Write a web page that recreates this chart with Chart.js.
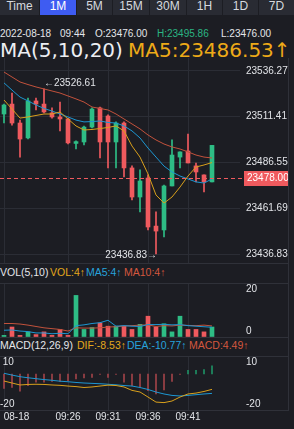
<!DOCTYPE html>
<html>
<head>
<meta charset="utf-8">
<script src="https://cdn.jsdelivr.net/npm/chart.js"></script>
<style>
  body { margin: 0; background: #1c1d23; width: 294px; height: 429px; overflow: hidden; position: relative;
         font-family: "Liberation Sans", Arial, sans-serif; }
  .abs { position: absolute; white-space: nowrap; line-height: 12px; }
  #bar { position: absolute; left: 0; top: 0; width: 294px; height: 15px; background: #1c1d23; }
  .tab { position: absolute; top: 0; height: 15px; background: #292b33; color: #d6d9df; font-size: 12px;
         text-align: center; line-height: 12px; }
  .tab.on { background: #3e5cf2; color: #fff; }
  .info { font-size: 10px; top: 27.5px; color: #e4e6ea; }
  .title { position: absolute; top: 38px; white-space: nowrap; font-family: "DejaVu Sans", sans-serif;
           font-size: 20px; line-height: 24px; }
  .leg { font-size: 10.5px; color: #e4e6ea; }
  .hl { position: absolute; left: 0; width: 289px; height: 1px; background: #2f3139; }
  .vl { position: absolute; left: 288px; top: 58px; width: 1px; height: 352px; background: #2f3139; }
  canvas { position: absolute; left: 0; }
</style>
</head>
<body>
<div id="bar">
  <div class="tab" style="left:0;width:39px">Time</div>
  <div class="tab on" style="left:40px;width:36px">1M</div>
  <div class="tab" style="left:77px;width:35px">5M</div>
  <div class="tab" style="left:113px;width:36px">15M</div>
  <div class="tab" style="left:150px;width:36px">30M</div>
  <div class="tab" style="left:187px;width:35px">1H</div>
  <div class="tab" style="left:223px;width:35px">1D</div>
  <div class="tab" style="left:259px;width:35px">7D</div>
</div>

<div class="abs info" style="left:0">2022-08-18</div>
<div class="abs info" style="left:60px">09:44</div>
<div class="abs info" style="left:95px">O:23476.00</div>
<div class="abs info" style="left:157px;color:#2bb583">H:23495.86</div>
<div class="abs info" style="left:221px">L:23476.00</div>

<div class="title" style="left:0;color:#eceef2">MA(5,10,20)</div>
<div class="title" style="left:128px;color:#eeaa18">MA5:23486.53↑</div>

<div class="abs leg" style="left:0;top:265.5px">VOL(5,10)</div>
<div class="abs leg" style="left:50px;top:265.5px;color:#e4a81c">VOL:4↑</div>
<div class="abs leg" style="left:86px;top:265.5px;color:#27a3dc">MA5:4↑</div>
<div class="abs leg" style="left:124px;top:265.5px;color:#d4573e">MA10:4↑</div>

<div class="abs leg" style="left:0;top:339px">MACD(12,26,9)</div>
<div class="abs leg" style="left:77px;top:339px;color:#e4a81c">DIF:-8.53↑</div>
<div class="abs leg" style="left:127px;top:339px;color:#27a3dc">DEA:-10.77↑</div>
<div class="abs leg" style="left:189px;top:339px;color:#d4573e">MACD:4.49↑</div>

<canvas id="main" width="289" height="205" style="top:58px"></canvas>
<canvas id="vol" width="289" height="55" style="top:283px"></canvas>
<canvas id="macd" width="289" height="73" style="top:356px"></canvas>

<div class="hl" style="top:263px"></div>
<div class="hl" style="top:283px"></div>
<div class="hl" style="top:337px"></div>
<div class="hl" style="top:356px"></div>
<div class="hl" style="top:410px"></div>
<div class="vl"></div>

<script>
// minutes shown on the chart (2022-08-18)
const times = ['09:18', '09:19', '09:20', '09:21', '09:22', '09:23', '09:24', '09:25', '09:26',
    '09:27', '09:28', '09:29', '09:30', '09:31', '09:32', '09:33', '09:34', '09:35', '09:36',
    '09:37', '09:38', '09:39', '09:40', '09:41', '09:42', '09:43', '09:44'];
const emptySlots = ['', '', ''];
const tickIndex = [0, 8, 13, 18, 23];
const tickText = ['08-18', '09:26', '09:31', '09:36', '09:41'];

const open = [23512.9, 23518.3, 23508.0, 23499.9, 23520.0, 23518.3, 23513.5, 23511.3, 23510.2, 23496.9,
    23497.7, 23505.8, 23516.2, 23511.8, 23497.7, 23508.0, 23483.6, 23467.8, 23478.1, 23452.0,
    23449.9, 23473.8, 23489.5, 23492.8, 23484.7, 23479.8, 23476.00];
const high = [23518.3, 23524.3, 23509.6, 23521.6, 23521.6, 23526.61, 23516.2, 23519.4, 23510.7, 23498.3,
    23506.4, 23516.2, 23516.7, 23512.4, 23508.6, 23508.6, 23484.7, 23482.5, 23479.8, 23459.7,
    23474.3, 23498.8, 23492.3, 23502.0, 23486.3, 23479.8, 23495.86];
const low = [23508.0, 23506.9, 23489.5, 23499.3, 23515.1, 23513.5, 23510.7, 23503.7, 23496.6, 23493.9,
    23496.1, 23505.3, 23489.0, 23483.6, 23483.6, 23478.7, 23466.2, 23459.7, 23449.9, 23436.83,
    23446.1, 23473.8, 23483.6, 23486.3, 23476.0, 23470.5, 23476.00];
const close = [23517.8, 23508.0, 23499.3, 23520.0, 23518.3, 23514.0, 23511.3, 23510.2, 23497.2, 23497.9,
    23505.8, 23515.6, 23497.7, 23497.7, 23508.0, 23483.6, 23467.8, 23476.5, 23451.5, 23449.3,
    23473.8, 23490.6, 23492.3, 23486.3, 23481.4, 23476.0, 23495.86];

const ma5 = [23520.5, 23515.6, 23510.7, 23511.3, 23512.1, 23512.9, 23512.9, 23514.0, 23510.2, 23506.4,
    23504.2, 23504.5, 23505.0, 23505.6, 23506.4, 23503.7, 23495.5, 23489.5, 23480.3, 23468.9,
    23464.5, 23467.8, 23473.2, 23479.2, 23484.1, 23485.2, 23486.53];
const ma10 = [23529.8, 23525.9, 23522.1, 23520.0, 23517.8, 23515.9, 23514.5, 23512.9, 23511.3, 23509.6,
    23508.6, 23508.8, 23509.1, 23508.3, 23508.0, 23506.4, 23503.7, 23499.9, 23494.4, 23489.5,
    23484.6, 23481.4, 23479.2, 23477.6, 23476.0, 23475.4, 23477.6];
const ma20 = [23535.7, 23533.0, 23530.3, 23528.9, 23527.6, 23526.5, 23525.4, 23524.3, 23522.7, 23521.1,
    23519.4, 23516.7, 23515.9, 23515.1, 23512.9, 23510.2, 23507.5, 23504.8, 23501.5, 23498.8,
    23496.6, 23495.0, 23493.9, 23492.3, 23490.6, 23489.5, 23489.0];

const vol = [0.6, 3.7, 0.6, 1.9, 0.9, 1.9, 0.6, 2.8, 0.6, 15.4, 2.8, 3.5, 5.2, 4.0, 4.0, 4.0, 2.8, 4.7,
    7.7, 3.7, 4.9, 1.9, 7.7, 2.8, 2.8, 1.9, 3.7];
const volMa5 = [2.5, 2.6, 2.2, 2.0, 1.5, 1.5, 1.2, 1.4, 1.2, 4.2, 4.5, 5.0, 5.3, 6.2, 4.0, 4.2, 4.0, 3.9,
    4.6, 4.6, 4.7, 4.5, 4.6, 4.2, 4.0, 3.8, 3.6];
const volMa10 = [5.0, 5.0, 4.8, 4.4, 3.9, 3.4, 3.1, 2.8, 2.2, 3.4, 3.3, 3.3, 3.4, 3.7, 3.8, 4.1, 4.2, 4.4,
    4.5, 3.9, 4.2, 4.1, 4.4, 4.3, 4.2, 4.4, 4.1];

const dif = [-3.9, -5.0, -6.1, -5.8, -5.7, -5.8, -6.1, -6.3, -6.7, -7.0, -7.5, -7.2, -6.7, -6.2, -6.4,
    -7.2, -9.1, -10.0, -12.8, -15.6, -15.9, -15.0, -12.8, -11.1, -10.6, -9.7, -8.53];
const dea = [0.4, -0.6, -1.5, -2.1, -2.6, -3.1, -3.5, -4.0, -4.3, -4.7, -5.0, -5.2, -5.4, -5.7, -6.0,
    -6.4, -6.7, -7.5, -8.6, -10.0, -11.1, -11.9, -12.2, -11.9, -11.5, -11.1, -10.77];
const macd = [-8.0, -7.4, -9.6, -6.5, -4.6, -4.6, -4.1, -4.1, -3.7, -2.8, -2.2, -1.9, -0.3, -1.9, -0.3,
    -4.6, -6.5, -7.4, -9.3, -11.0, -8.9, -4.1, -0.3, 2.0, 2.0, 2.4, 4.49];

const priceTicks = [23536.27, 23511.41, 23486.55, 23461.69, 23436.83];
const lastPrice = 23478.00;
const volTicks = [0, 20];
const macdTicks = [-20, 0, 10];

const GREEN = '#2ebd85';
const RED = '#ef5a5e';
const YELLOW = '#d9a01c';
const BLUE = '#1d97d2';
const BROWN = '#c2523c';
const GRID = '#2b2d35';
const TEXT = '#e2e4e8';
const FONT = '"Liberation Sans", Arial, sans-serif';

const slots = times.concat(emptySlots);
const candleColors = close.map((c, i) => c >= open[i] ? GREEN : RED);
const bodies = open.map((o, i) => [o, close[i]]);
const wicks = low.map((l, i) => [l, high[i]]);

// axis labels at the pane edges sit inside the pane
const edgeLabel = function (top, bottom, pad) {
    return function (v) {
        const txt = (pad && v >= 0 ? ' ' : '') + String(v);
        if (v === top) return ['', txt];
        if (v === bottom) return [txt, ''];
        return '';
    };
};

const noPad = function (s) {
    s.paddingTop = 0;
    s.paddingBottom = 0;
    s.paddingLeft = 0;
    s.paddingRight = 0;
};

const xAxis = function (showLabels, height) {
    return {
        type: 'category',
        offset: true,
        grid: { color: GRID, offset: false, drawTicks: false },
        border: { display: false },
        ticks: {
            display: showLabels, autoSkip: false, maxRotation: 0, padding: 1,
            color: TEXT, font: { family: FONT, size: 10 },
            callback: function (v) {
                const k = tickIndex.indexOf(v);
                return k === 0 ? ' '.repeat(9) + tickText[0] : tickText[k];
            }
        },
        afterBuildTicks: s => { s.ticks = s.ticks.filter(t => tickIndex.includes(t.value)); },
        afterFit: s => { s.height = height; noPad(s); }
    };
};

const yAxis = function (min, max, values, fmt) {
    return {
        position: 'right',
        min: min,
        max: max,
        grid: { color: GRID, drawTicks: false },
        border: { display: false },
        ticks: { color: TEXT, padding: 6, font: { family: FONT, size: 10 }, callback: fmt },
        afterBuildTicks: s => { s.ticks = values.map(v => ({ value: v })); },
        afterFit: s => { s.width = 49; noPad(s); }
    };
};

const baseOptions = function (scales) {
    return {
        responsive: false,
        animation: false,
        events: [],
        layout: { padding: 0, autoPadding: false },
        plugins: { legend: { display: false }, tooltip: { enabled: false } },
        scales: scales
    };
};

const lineSet = (data, color) => ({
    type: 'line', data: data, borderColor: color, borderWidth: 1, pointRadius: 0, tension: 0, order: 0
});

// dashed last price line, price tag and the high / low marks
const pricePlugin = {
    id: 'price',
    afterDatasetsDraw(chart) {
        const { ctx, chartArea: a, scales: { x, y } } = chart;
        const py = Math.round(y.getPixelForValue(lastPrice)) + 0.5;
        ctx.save();
        ctx.strokeStyle = RED;
        ctx.lineWidth = 1;
        ctx.setLineDash([4, 3]);
        ctx.beginPath();
        ctx.moveTo(a.left, py);
        ctx.lineTo(a.right + 4, py);
        ctx.stroke();
        ctx.setLineDash([]);
        ctx.fillStyle = RED;
        ctx.fillRect(a.right + 4, py - 7.5, 44, 15);
        ctx.fillStyle = '#ffffff';
        ctx.font = '10px ' + FONT;
        ctx.textBaseline = 'middle';
        ctx.textAlign = 'left';
        ctx.fillText(lastPrice.toFixed(2), a.right + 7, py);

        const hi = Math.max(...high);
        const lo = Math.min(...low);
        ctx.fillStyle = TEXT;
        ctx.fillText('←' + hi.toFixed(2), x.getPixelForValue(high.indexOf(hi)), y.getPixelForValue(hi) - 6);
        ctx.textAlign = 'right';
        ctx.fillText(lo.toFixed(2) + '→', x.getPixelForValue(low.indexOf(lo)) + 1, y.getPixelForValue(lo) + 1);
        ctx.restore();
    }
};

new Chart(document.getElementById('main'), {
    type: 'bar',
    data: {
        labels: slots,
        datasets: [
            lineSet(ma5, YELLOW),
            lineSet(ma10, BLUE),
            lineSet(ma20, BROWN),
            { type: 'bar', data: bodies, backgroundColor: candleColors, barThickness: 4, grouped: false, order: 1 },
            { type: 'bar', data: wicks, backgroundColor: candleColors, barThickness: 1, grouped: false, order: 2 }
        ]
    },
    options: baseOptions({
        x: xAxis(false, 0),
        y: yAxis(23431.94, 23543.33, priceTicks, v => v.toFixed(2))
    }),
    plugins: [pricePlugin]
});

new Chart(document.getElementById('vol'), {
    type: 'bar',
    data: {
        labels: slots,
        datasets: [
            lineSet(volMa5, BLUE),
            lineSet(volMa10, BROWN),
            { type: 'bar', data: vol, backgroundColor: candleColors, barThickness: 4, order: 1 }
        ]
    },
    options: baseOptions({
        x: xAxis(false, 1),
        y: yAxis(0, 20, volTicks, edgeLabel(20, 0))
    })
});

// copy of the MACD scale labels on the left edge
const macdLeft = yAxis(-20, 10, [-20, 10], edgeLabel(10, -20, true));
macdLeft.position = 'left';
macdLeft.grid = { display: false };
macdLeft.ticks.mirror = true;
macdLeft.ticks.padding = 0;
macdLeft.afterFit = s => { s.width = 0; noPad(s); };

new Chart(document.getElementById('macd'), {
    type: 'bar',
    data: {
        labels: slots,
        datasets: [
            lineSet(dif, YELLOW),
            lineSet(dea, BLUE),
            {
                type: 'bar', data: macd, barThickness: 1, order: 1,
                backgroundColor: macd.map(v => v >= 0 ? '#1f9064' : '#a04348')
            }
        ]
    },
    options: baseOptions({
        x: xAxis(true, 19),
        y: yAxis(-20, 10, macdTicks, edgeLabel(10, -20)),
        yl: macdLeft
    })
});
</script>
</body>
</html>
